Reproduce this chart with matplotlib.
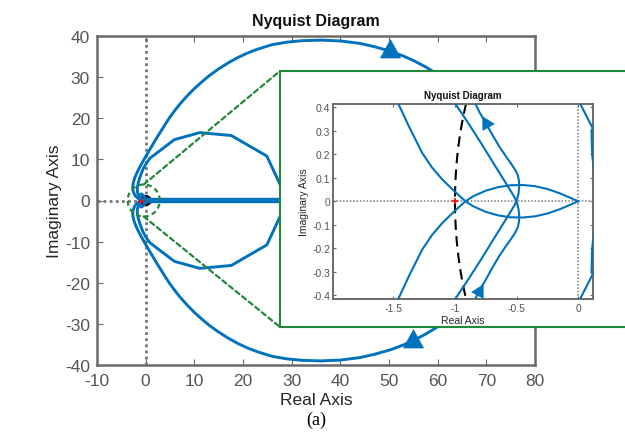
import numpy as np
import matplotlib
matplotlib.use("Agg")
import matplotlib.pyplot as plt
from matplotlib.markers import MarkerStyle
from matplotlib.transforms import Affine2D
from matplotlib.patches import Ellipse, ConnectionPatch

# ---------------------------------------------------------------
# Nyquist data (positive-frequency branches); the negative-frequency
# branches are their complex conjugates, traversed in reverse.
# ---------------------------------------------------------------
# Outer loop: lens at the origin, around the -1 region, big arc on the right
OUTER_RE = [0.0, -0.07, -0.15, -0.25, -0.35, -0.45, -0.55, -0.65, -0.75, -0.85,
            -0.915, -1.0, -1.104, -1.186, -1.267, -1.375, -1.456, -1.65, -1.9,
            -2.15, -2.35, -2.52, -2.63, -2.66, -2.6, -2.45, -2.2, -1.85, -1.4,
            -0.9, -0.3, 0.3, 1.0, 2.0, 3.0, 4.0, 5.0, 6.0, 7.0,
            8.5, 10.0, 11.5, 13.0, 15.0, 17.0, 19.0, 21.0, 23.0, 26.0, 29.0,
            32.0, 36.0, 40.0, 44.0, 47.0, 50.3, 53.0, 55.0, 57.5, 59.6, 62.0,
            64.0, 66.0, 68.0, 70.0, 71.5, 72.8, 73.8, 74.5, 74.9, 75.0]
OUTER_IM = [0.0, -0.016, -0.034, -0.052, -0.064, -0.069, -0.068, -0.06, -0.045,
            -0.022, 0.0, 0.04, 0.093, 0.143, 0.206, 0.319, 0.41, 0.62, 0.85,
            1.15, 1.6, 2.1, 2.6, 3.2, 3.9, 4.7, 5.6, 6.6, 7.7,
            8.8, 10.05, 11.3, 12.7, 14.7, 16.6, 18.5, 20.3, 21.9, 23.4,
            25.4, 27.2, 28.8, 30.3, 32.0, 33.5, 34.8, 35.9, 36.8, 37.9, 38.5,
            38.85, 39.0, 38.8, 38.2, 37.4, 36.3, 35.1, 34.05, 32.5, 31.0, 29.05,
            27.15, 24.9, 22.3, 19.4, 16.2, 12.7, 9.6, 6.6, 4.0, 0.0]

# Inner loop: small loop near the origin, S-shaped pass near -0.5,
# coarse polygonal loop out to Re = 28 and the return along the real axis
INNER_RE = [0.3, 0.26, 0.19, 0.113, 0.02, -0.15, -0.5, -0.95, -1.25, -1.15,
            -0.95, -0.84, -0.803, -0.75, -0.7, -0.64, -0.586, -0.545, -0.51,
            -0.49, -0.48, -0.479, -0.484, -0.495, -0.512, -0.54, -0.573, -0.68,
            -0.78, -0.89, -0.992, -1.15, -1.35, -1.55, -1.7, -1.72, -1.55,
            -1.2, -0.6, 0.1, 0.9, 5.9, 11.1, 17.6, 24.9, 28.0, 28.6, 0.5,
            0.16, 0.108, 0.113, 0.13]
INNER_IM = [0.0, -0.1, -0.22, -0.315, -0.41, -0.7, -1.3, -1.6, -1.3, -0.85,
            -0.55, -0.42, -0.38, -0.333, -0.285, -0.232, -0.19, -0.16, -0.132,
            -0.11, -0.085, -0.06, -0.035, -0.01, 0.012, 0.037, 0.065, 0.155,
            0.24, 0.33, 0.41, 0.6, 0.9, 1.4, 2.1, 3.0, 4.2,
            5.6, 7.5, 9.0, 10.3, 14.8, 16.5, 15.8, 10.8, 2.9, 0.3, 0.3,
            0.35, 0.3, 0.2, 0.12]

CRITICAL_POINT = (-1.0, 0.0)

MAIN_XTICKS = [-10, 0, 10, 20, 30, 40, 50, 60, 70, 80]
MAIN_YTICKS = [-40, -30, -20, -10, 0, 10, 20, 30, 40]
ZOOM_XTICKS = [-1.5, -1.0, -0.5, 0.0]
ZOOM_XTICKLABELS = ["-1.5", "-1", "-0.5", "0"]
ZOOM_YTICKS = [-0.4, -0.3, -0.2, -0.1, 0.0, 0.1, 0.2, 0.3, 0.4]
ZOOM_YTICKLABELS = ["-0.4", "-0.3", "-0.2", "-0.1", "0", "0.1", "0.2", "0.3", "0.4"]

# ---------------------------------------------------------------
BLUE = "#0072BD"
GREEN = "#23893a"
SPINE = "#6a6a6a"
TICKTXT = "#555555"
DOTS = "#777777"

plt.rcParams["font.family"] = ["Liberation Sans", "DejaVu Sans"]
plt.rcParams["axes.unicode_minus"] = False

W, H = 625, 439
fig = plt.figure(figsize=(W / 100, H / 100), dpi=100)


def frac(x0, y0, x1, y1):
    return [x0 / W, 1 - y1 / H, (x1 - x0) / W, (y1 - y0) / H]


TRI = [(0.0, 1.0), (-0.85, -0.55), (0.85, -0.55), (0.0, 1.0)]


def arrowhead(ax, xs, ys, i, reverse, ms, angle=None, zorder=5):
    p_prev = ax.transData.transform((xs[i - 1], ys[i - 1]))
    p_next = ax.transData.transform((xs[i + 1], ys[i + 1]))
    d = (p_prev - p_next) if reverse else (p_next - p_prev)
    ang = np.degrees(np.arctan2(d[1], d[0])) if angle is None else angle
    m = MarkerStyle(TRI, transform=Affine2D().rotate_deg(ang - 90))
    ax.plot([xs[i]], [ys[i]], linestyle="none", marker=m, ms=ms,
            color=BLUE, mec=BLUE, mew=0.5, zorder=zorder)


def style_axes(ax, labelsize, spine_w, tick_len):
    for s in ax.spines.values():
        s.set_color(SPINE)
        s.set_linewidth(spine_w)
    ax.tick_params(direction="in", top=True, right=True, length=tick_len,
                   width=0.8, color=SPINE, labelcolor=TICKTXT,
                   labelsize=labelsize)


def draw_curves(ax, lw):
    o_re, o_im = np.array(OUTER_RE), np.array(OUTER_IM)
    i_re, i_im = np.array(INNER_RE), np.array(INNER_IM)
    for re, im in ((o_re, o_im), (i_re, i_im)):
        ax.plot(re, im, color=BLUE, lw=lw, solid_joinstyle="round", zorder=3)
        ax.plot(re, -im, color=BLUE, lw=lw, solid_joinstyle="round", zorder=3)


# ---------------- main axes ----------------
ax = fig.add_axes(frac(97, 37, 535, 366))
ax.set_xlim(-10, 80)
ax.set_ylim(-40, 40)
ax.set_xticks(MAIN_XTICKS)
ax.set_yticks(MAIN_YTICKS)
style_axes(ax, 12.5, 1.8, 4)
ax.tick_params(axis="x", pad=6)
ax.tick_params(axis="y", pad=5)

ax.axhline(0, color=DOTS, lw=2.0, ls=(0, (1, 1.2)), zorder=1)
ax.axvline(0, color=DOTS, lw=2.0, ls=(0, (1, 1.2)), zorder=1)

th = np.linspace(0, 2 * np.pi, 200)
ax.plot(np.cos(th), np.sin(th), color="black", lw=2.0, ls=(0, (4, 2)), zorder=2)
draw_curves(ax, 2.1)
ax.plot(*CRITICAL_POINT, marker="+", color="red", ms=4, mew=1, zorder=6)

arrowhead(ax, OUTER_RE, OUTER_IM, OUTER_RE.index(50.3), False, 17, angle=90)
arrowhead(ax, OUTER_RE, [-v for v in OUTER_IM], OUTER_RE.index(55.0), True, 17, angle=90)

ax.set_title("Nyquist Diagram", fontsize=11.5, fontweight="bold", pad=8, color="#111111")
ax.set_xlabel("Real Axis", fontsize=12.5, color="#262626", labelpad=3)
ax.set_ylabel("Imaginary Axis", fontsize=12.5, color="#262626", labelpad=2)

# zoom marker around the origin
ell_w, ell_h = 6.6, 7.8
ell_c = (-0.4, 0.0)
ax.add_patch(Ellipse(ell_c, ell_w, ell_h, fill=False, ec=GREEN, lw=1.6,
                     ls=(0, (2.2, 1.6)), zorder=4))

# ---------------- zoom panel ----------------
panel = fig.add_axes(frac(280, 72, 640, 328), zorder=2)
panel.set_xticks([])
panel.set_yticks([])
panel.set_facecolor("white")
for s in panel.spines.values():
    s.set_color(GREEN)
    s.set_linewidth(1.5)

for yb in (1, 0):
    cp = ConnectionPatch(xyA=(ell_c[0], ell_c[1] + (ell_h / 2 if yb else -ell_h / 2)),
                         coordsA=ax.transData, xyB=(0, yb), coordsB=panel.transAxes,
                         color=GREEN, lw=1.6, ls=(0, (2.2, 1.6)), zorder=1.5)
    fig.add_artist(cp)

ax2 = fig.add_axes(frac(333, 105, 593, 300), zorder=3)
ax2.set_xlim(-1.99, 0.12)
ax2.set_ylim(-0.415, 0.413)
ax2.set_xticks(ZOOM_XTICKS)
ax2.set_xticklabels(ZOOM_XTICKLABELS)
ax2.set_yticks(ZOOM_YTICKS)
ax2.set_yticklabels(ZOOM_YTICKLABELS)
style_axes(ax2, 7.5, 1.4, 2.5)
ax2.tick_params(axis="x", pad=3)
ax2.tick_params(axis="y", pad=2)

ax2.axhline(0, color=DOTS, lw=1.1, ls=(0, (1, 1.2)), zorder=1)
ax2.axvline(0, color=DOTS, lw=1.1, ls=(0, (1, 1.2)), zorder=1)
ax2.plot(np.cos(th), np.sin(th), color="black", lw=1.5, ls=(0, (5, 3)), zorder=2)
draw_curves(ax2, 1.5)
ax2.plot(*CRITICAL_POINT, marker="+", color="red", ms=5, mew=1.2, zorder=6)

arrowhead(ax2, INNER_RE, INNER_IM, INNER_RE.index(-0.803), False, 11)
arrowhead(ax2, INNER_RE, [-v for v in INNER_IM], INNER_RE.index(-0.75), True, 11)

ax2.set_title("Nyquist Diagram", fontsize=7, fontweight="bold", pad=4, color="#111111")
ax2.set_xlabel("Real Axis", fontsize=7.5, color="#262626", labelpad=1)
ax2.set_ylabel("Imaginary Axis", fontsize=7.5, color="#262626", labelpad=2)

fig.text(316 / W, 1 - 420 / H, "(a)", fontsize=13, family="Liberation Serif",
         ha="center", va="center", color="black")

fig.savefig("out.png", dpi=100)
